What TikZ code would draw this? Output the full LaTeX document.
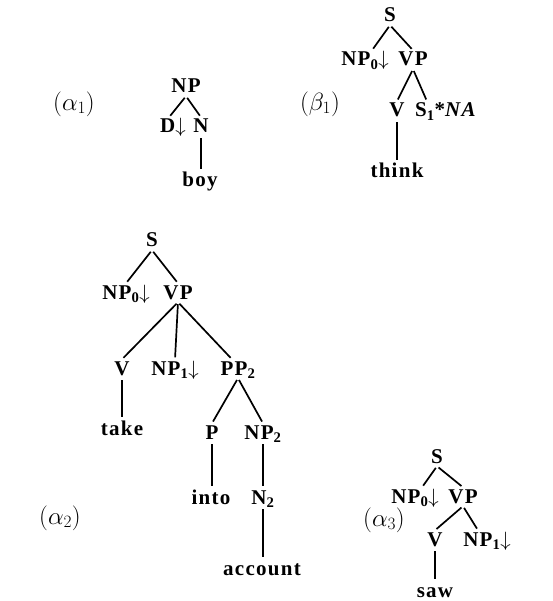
\documentclass[tikz,border=0pt]{standalone}
\usepackage{fontspec}
\setmainfont{Liberation Serif}[LetterSpace=6]
\begin{document}
\begin{tikzpicture}[x=1pt,y=-1pt,
  lab/.style={font=\fontsize{21}{25}\selectfont\bfseries, inner sep=1pt, text height=14.5pt, text depth=2pt, anchor=base},
  tlab/.style={font=\fontsize{26}{30}\selectfont, inner sep=0pt},
  br/.style={line width=1.7pt, shorten <=2pt, shorten >=2pt}]
\useasboundingbox (0,0) rectangle (552,601);
\newcommand{\dn}{$\downarrow$}
% alpha1
\node[tlab] (la1) at (74,104) {$(\alpha_1)$};
\node[lab] (a1np) at (186,93) {NP};
\node[lab] (a1d) at (173,133) {D\dn};
\node[lab] (a1n) at (201,133) {N};
\node[lab] (a1boy) at (200,187) {boy};
\draw[br] (a1np.south) -- ([xshift=-4pt]a1d.north);
\draw[br] (a1np.south) -- (a1n.north);
\draw[br] (a1n.south) -- (a1n.south |- a1boy.north);
% beta1
\node[tlab] (lb1) at (320,104) {$(\beta_1)$};
\node[lab] (b1s) at (390,22) {S};
\node[lab] (b1np) at (365,66) {NP\textsubscript{0}\dn};
\node[lab] (b1vp) at (413,66) {VP};
\node[lab] (b1v) at (397,117) {V};
\node[lab] (b1s1) at (446,117) {S\textsubscript{1}*\textit{NA}};
\node[lab] (b1think) at (397,178) {think};
\draw[br] (b1s.south) -- ([xshift=7pt]b1np.north);
\draw[br] (b1s.south) -- (b1vp.north);
\draw[br] (b1vp.south) -- (b1v.north);
\draw[br] (b1vp.south) -- ([xshift=-19pt]b1s1.north);
\draw[br] (b1v.south) -- (b1v.south |- b1think.north);
% alpha2
\node[tlab] (la2) at (60,518) {$(\alpha_2)$};
\node[lab] (a2s) at (152,247) {S};
\node[lab] (a2np0) at (126,299) {NP\textsubscript{0}\dn};
\node[lab] (a2vp) at (178,299) {VP};
\node[lab] (a2v) at (122,375) {V};
\node[lab] (a2np1) at (175,375) {NP\textsubscript{1}\dn};
\node[lab] (a2pp) at (238,375) {PP\textsubscript{2}};
\node[lab] (a2take) at (122,435) {take};
\node[lab] (a2p) at (212,439) {P};
\node[lab] (a2np2) at (263,439) {NP\textsubscript{2}};
\node[lab] (a2into) at (211,504) {into};
\node[lab] (a2n2) at (263,504) {N\textsubscript{2}};
\node[lab] (a2acc) at (262,575) {account};
\draw[br] (a2s.south) -- (a2np0.north);
\draw[br] (a2s.south) -- (a2vp.north);
\draw[br] (a2vp.south) -- (a2v.north);
\draw[br] (a2vp.south) -- (a2np1.north);
\draw[br] (a2vp.south) -- ([xshift=-6pt]a2pp.north);
\draw[br] (a2v.south) -- (a2v.south |- a2take.north);
\draw[br] (a2pp.south) -- (a2p.north);
\draw[br] (a2pp.south) -- (a2np2.north);
\draw[br] (a2p.south) -- (a2p.south |- a2into.north);
\draw[br] (a2np2.south) -- (a2np2.south |- a2n2.north);
\draw[br] (a2n2.south) -- (a2n2.south |- a2acc.north);
% alpha3
\node[tlab] (la3) at (384,520) {$(\alpha_3)$};
\node[lab] (a3s) at (437,463) {S};
\node[lab] (a3np0) at (415,503) {NP\textsubscript{0}\dn};
\node[lab] (a3vp) at (463,503) {VP};
\node[lab] (a3v) at (435,546) {V};
\node[lab] (a3np1) at (487,546) {NP\textsubscript{1}\dn};
\node[lab] (a3saw) at (435,597) {saw};
\draw[br] (a3s.south) -- ([xshift=7pt]a3np0.north);
\draw[br] (a3s.south) -- (a3vp.north);
\draw[br] (a3vp.south) -- (a3v.north);
\draw[br] (a3vp.south) -- ([xshift=-9pt]a3np1.north);
\draw[br] (a3v.south) -- (a3v.south |- a3saw.north);
\end{tikzpicture}
\end{document}
